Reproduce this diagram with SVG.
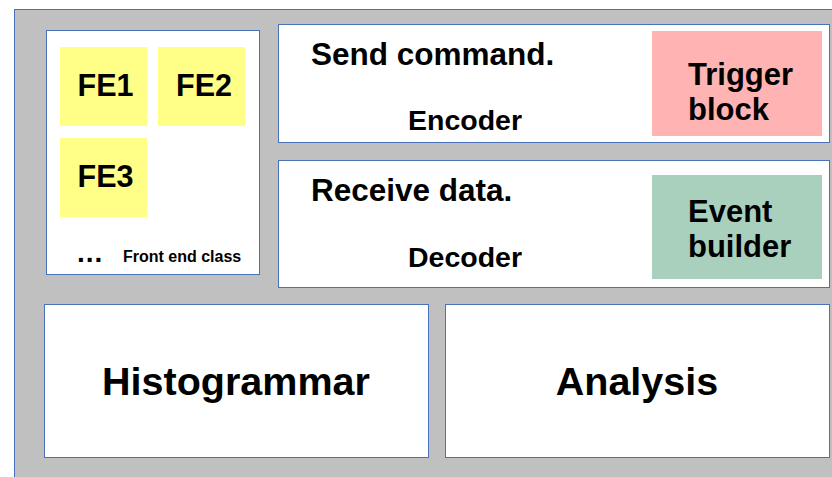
<svg xmlns="http://www.w3.org/2000/svg" width="832" height="477" viewBox="0 0 832 477">
  <style>
    .frame { fill: #c0c0c0; stroke: #4a72b8; stroke-width: 1; }
    .box { fill: #ffffff; stroke: #4a72b8; stroke-width: 1; }
    .fe { fill: #ffff88; }
    text { font-family: "Liberation Sans", Arial, sans-serif; font-weight: bold; fill: #000000; }
  </style>
  <rect width="832" height="477" fill="#ffffff"/>
  <rect id="system" class="frame" x="14.5" y="9.5" width="830" height="480"/>

  <g id="frontend-class">
    <rect class="box" x="46.5" y="30.5" width="213" height="244"/>
    <text x="77" y="262" font-size="28" letter-spacing="1">...</text>
    <text x="123" y="262" font-size="16">Front end class</text>
  </g>
  <g id="fe1">
    <rect class="fe" x="60" y="47" width="87" height="79"/>
    <text x="105.5" y="96" font-size="30.5" text-anchor="middle">FE1</text>
  </g>
  <g id="fe2">
    <rect class="fe" x="158" y="47" width="87" height="79"/>
    <text x="204" y="96" font-size="30.5" text-anchor="middle">FE2</text>
  </g>
  <g id="fe3">
    <rect class="fe" x="60" y="138" width="87" height="79"/>
    <text x="105.5" y="186.5" font-size="30.5" text-anchor="middle">FE3</text>
  </g>

  <g id="encoder">
    <rect class="box" x="278.5" y="24.5" width="551" height="118"/>
    <text x="311" y="65" font-size="31.5">Send command.</text>
    <text x="465" y="130" font-size="28.5" text-anchor="middle">Encoder</text>
  </g>
  <g id="trigger-block">
    <rect x="652" y="31" width="170" height="105" fill="#ffb3b3"/>
    <text x="688" y="85" font-size="31">Trigger</text>
    <text x="688" y="120" font-size="31">block</text>
  </g>

  <g id="decoder">
    <rect class="box" x="278.5" y="160.5" width="551" height="127"/>
    <text x="311" y="201" font-size="31.5">Receive data.</text>
    <text x="465" y="267" font-size="28.5" text-anchor="middle">Decoder</text>
  </g>
  <g id="event-builder">
    <rect x="652" y="175" width="170" height="104" fill="#a8d0bd"/>
    <text x="688" y="222" font-size="31">Event</text>
    <text x="688" y="257" font-size="31">builder</text>
  </g>

  <g id="histogrammar">
    <rect class="box" x="44.5" y="304.5" width="384" height="153"/>
    <text x="236" y="395" font-size="39.5" text-anchor="middle">Histogrammar</text>
  </g>
  <g id="analysis">
    <rect class="box" x="445.5" y="304.5" width="384" height="153"/>
    <text x="637" y="395" font-size="39.5" text-anchor="middle">Analysis</text>
  </g>

  <g id="connectors"/>
</svg>
